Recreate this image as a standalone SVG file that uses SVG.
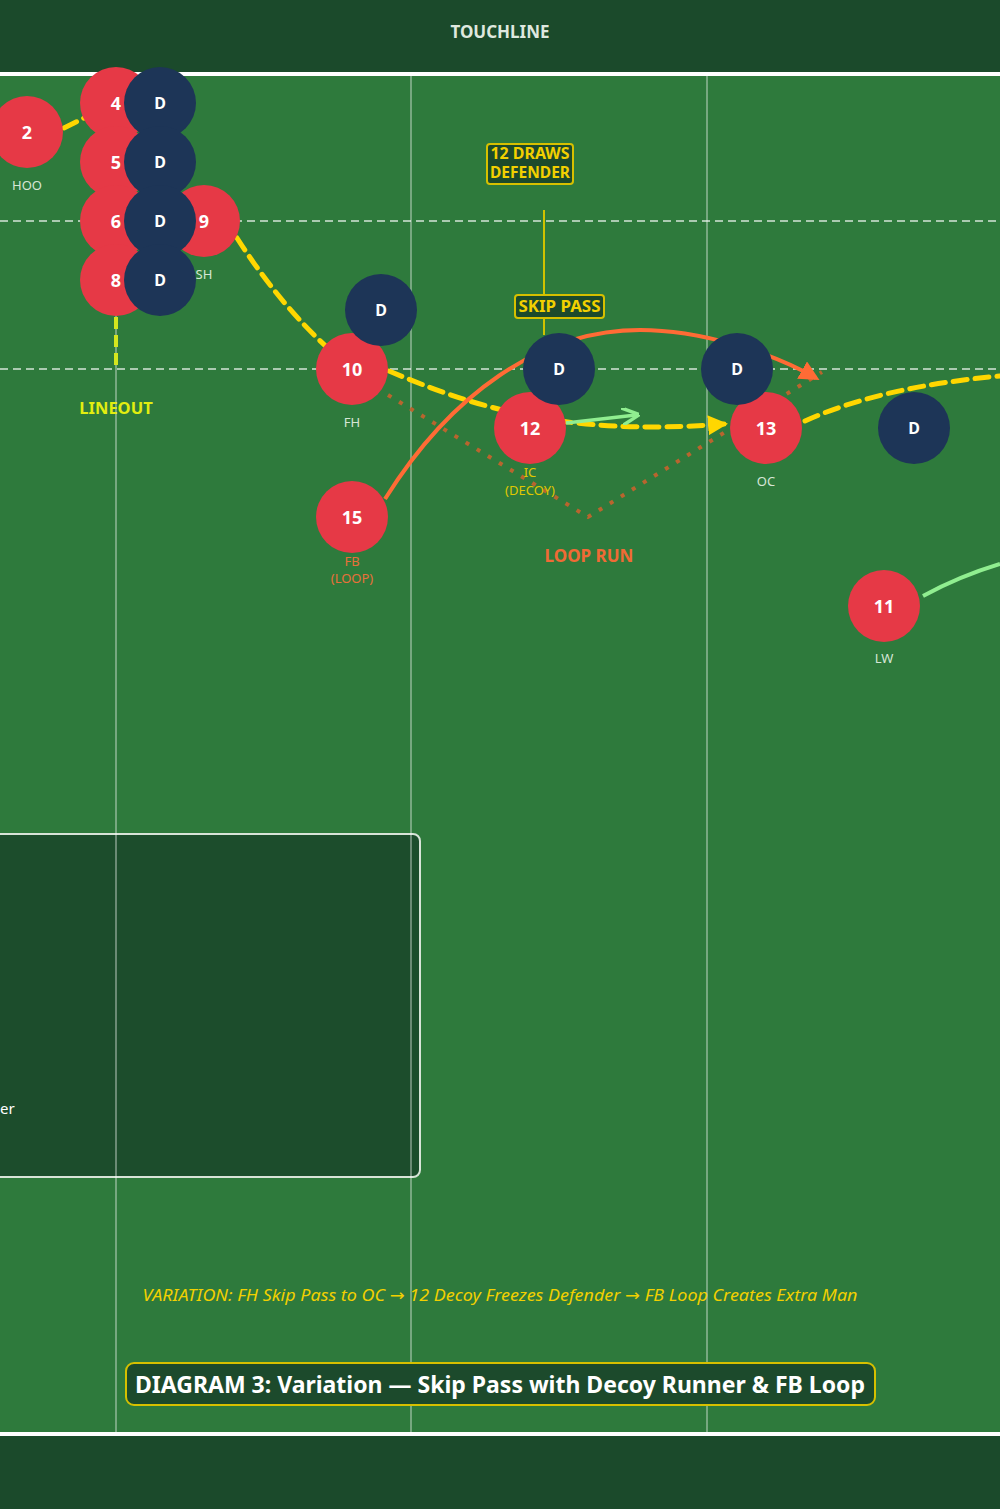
<svg xmlns="http://www.w3.org/2000/svg" width="1000" height="1509" viewBox="0 0 1000 1509">
<defs>
<style>
.lbl{font-family:"Noto Sans","Open Sans",sans-serif;font-size:13px;fill:#d6e6d6;text-anchor:middle}
.num{font-family:"Noto Sans","Open Sans",sans-serif;font-size:18px;font-weight:bold;fill:#ffffff;text-anchor:middle;dominant-baseline:central}
.dn{font-family:"Noto Sans","Open Sans",sans-serif;font-size:16px;font-weight:bold;fill:#ffffff;text-anchor:middle;dominant-baseline:central}
.att{fill:#e63946}
.def{fill:#1d3557}
.pass{fill:none;stroke:#ffd700;stroke-width:5;stroke-dasharray:14 8;stroke-linecap:round}
.vline{stroke:#ffffff;stroke-opacity:0.35;stroke-width:2}
.hline{stroke:#ffffff;stroke-opacity:0.6;stroke-width:2;stroke-dasharray:8 5}
.call{font-family:"Noto Sans","Open Sans",sans-serif;font-size:16px;font-weight:bold;fill:#f2d000;text-anchor:middle}
.callbox{fill:#1c4a2c;stroke:#d6c000;stroke-width:2}
</style>
<marker id="arY" viewBox="0 0 10 10" refX="8" refY="5" markerWidth="4" markerHeight="4" orient="auto" markerUnits="strokeWidth"><path d="M0,0 L10,5 L0,10 z" fill="#ffd700"/></marker>
<marker id="arO" viewBox="0 0 10 10" refX="8" refY="5" markerWidth="5" markerHeight="5" orient="auto" markerUnits="strokeWidth"><path d="M0,0 L10,5 L0,10 z" fill="#ff6b35"/></marker>
<marker id="arG" viewBox="0 0 10 10" refX="8" refY="5" markerWidth="5" markerHeight="5" orient="auto" markerUnits="strokeWidth"><path d="M0,0 L10,5 L0,10" fill="none" stroke="#90ee90" stroke-width="2"/></marker>
</defs>
<rect x="0" y="0" width="1000" height="1509" fill="#2e7a3c"/>
<rect x="0" y="0" width="1000" height="72" fill="#1b4a2b"/>
<rect x="0" y="72" width="1000" height="4" fill="#ffffff"/>
<rect x="0" y="1436" width="1000" height="73" fill="#1b4a2b"/>
<rect x="0" y="1432" width="1000" height="4" fill="#ffffff"/>
<text x="500" y="38" font-family="Noto Sans, Open Sans, sans-serif" font-size="17" font-weight="bold" fill="#dfe8df" text-anchor="middle">TOUCHLINE</text>

<g id="legend">
<rect x="-20" y="834" width="440" height="343" rx="7" fill="#1c4d2c" stroke="#d8e4d8" stroke-width="2"/>
<text x="0" y="1114" font-family="Noto Sans, Open Sans, sans-serif" font-size="15" fill="#ffffff">er</text>
</g>

<g id="field-lines">
<line class="vline" x1="116" y1="76" x2="116" y2="1432"/>
<line class="vline" x1="411" y1="76" x2="411" y2="1432"/>
<line class="vline" x1="707" y1="76" x2="707" y2="1432"/>
<line class="hline" x1="0" y1="221" x2="1000" y2="221"/>
<line class="hline" x1="0" y1="369" x2="1000" y2="369"/>
</g>

<g id="connectors">
<path class="pass" d="M64,128 L86,117"/>
<path class="pass" d="M237,238 Q280,305 330,350"/>
<path class="pass" d="M389,371 C470,405 560,437 724,424" marker-end="url(#arY)"/>
<path class="pass" d="M805,421 Q880,387 1000,376"/>
<line x1="116" y1="317" x2="116" y2="369" stroke="#d4e61e" stroke-width="4" stroke-dasharray="12 6"/>
<line x1="544" y1="210" x2="544" y2="335" stroke="#cfc200" stroke-width="2"/>
<path d="M388,395 L588,517 L822,372" fill="none" stroke="#b8652e" stroke-width="4" stroke-dasharray="4 9"/>
<path d="M385,499 C450,395 540,330 640,330 C700,330 770,352 816,378" fill="none" stroke="#ff6b35" stroke-width="4" marker-end="url(#arO)"/>
<path d="M566,423 L636,415" fill="none" stroke="#90ee90" stroke-width="3.5" marker-end="url(#arG)"/>
<path d="M923,596 Q960,576 1000,564" fill="none" stroke="#90ee90" stroke-width="4"/>
</g>

<g id="callouts">
<g id="call-draws"><rect class="callbox" x="487" y="144" width="86" height="40" rx="3"/><text class="call" x="530" y="159" textLength="79" lengthAdjust="spacingAndGlyphs">12 DRAWS</text><text class="call" x="530" y="178" textLength="80" lengthAdjust="spacingAndGlyphs">DEFENDER</text></g>
<g id="call-skip"><rect class="callbox" x="515" y="295" width="89" height="23" rx="3"/><text class="call" x="559.5" y="312" textLength="82" lengthAdjust="spacingAndGlyphs">SKIP PASS</text></g>
<text x="116" y="414" font-family="Noto Sans, Open Sans, sans-serif" font-size="16.5" font-weight="bold" fill="#e2ee10" text-anchor="middle">LINEOUT</text>
<text x="589" y="562" font-family="Noto Sans, Open Sans, sans-serif" font-size="17" font-weight="bold" fill="#f06a35" text-anchor="middle">LOOP RUN</text>
</g>

<g id="attackers">
<g id="n2"><circle class="att" cx="27" cy="132" r="36"/><text class="num" x="27" y="132">2</text><text class="lbl" x="27" y="190">HOO</text></g>
<g id="n4"><circle class="att" cx="116" cy="103" r="36"/><text class="num" x="116" y="103">4</text></g>
<g id="n5"><circle class="att" cx="116" cy="162" r="36"/><text class="num" x="116" y="162">5</text></g>
<g id="n6"><circle class="att" cx="116" cy="221" r="36"/><text class="num" x="116" y="221">6</text></g>
<g id="n8"><circle class="att" cx="116" cy="280" r="36"/><text class="num" x="116" y="280">8</text></g>
<g id="n9"><circle class="att" cx="204" cy="221" r="36"/><text class="num" x="204" y="221">9</text><text class="lbl" x="204" y="279">SH</text></g>
<g id="n10"><circle class="att" cx="352" cy="369" r="36"/><text class="num" x="352" y="369">10</text><text class="lbl" x="352" y="427">FH</text></g>
<g id="n12"><circle class="att" cx="530" cy="428" r="36"/><text class="num" x="530" y="428">12</text><text class="lbl" x="530" y="477" style="fill:#e0c800">IC</text><text class="lbl" x="530" y="495" style="fill:#e0c800">(DECOY)</text></g>
<g id="n13"><circle class="att" cx="766" cy="428" r="36"/><text class="num" x="766" y="428">13</text><text class="lbl" x="766" y="486">OC</text></g>
<g id="n15"><circle class="att" cx="352" cy="517" r="36"/><text class="num" x="352" y="517">15</text><text class="lbl" x="352" y="566" style="fill:#e8703a">FB</text><text class="lbl" x="352" y="583" style="fill:#e8703a">(LOOP)</text></g>
<g id="n11"><circle class="att" cx="884" cy="606" r="36"/><text class="num" x="884" y="606">11</text><text class="lbl" x="884" y="663">LW</text></g>
</g>

<g id="defenders">
<g id="d1"><circle class="def" cx="160" cy="103" r="36"/><text class="dn" x="160" y="103">D</text></g>
<g id="d2"><circle class="def" cx="160" cy="162" r="36"/><text class="dn" x="160" y="162">D</text></g>
<g id="d3"><circle class="def" cx="160" cy="221" r="36"/><text class="dn" x="160" y="221">D</text></g>
<g id="d4"><circle class="def" cx="160" cy="280" r="36"/><text class="dn" x="160" y="280">D</text></g>
<g id="d5"><circle class="def" cx="381" cy="310" r="36"/><text class="dn" x="381" y="310">D</text></g>
<g id="d6"><circle class="def" cx="559" cy="369" r="36"/><text class="dn" x="559" y="369">D</text></g>
<g id="d7"><circle class="def" cx="737" cy="369" r="36"/><text class="dn" x="737" y="369">D</text></g>
<g id="d8"><circle class="def" cx="914" cy="428" r="36"/><text class="dn" x="914" y="428">D</text></g>
</g>

<text x="500" y="1301" font-family="Noto Sans, Open Sans, sans-serif" font-size="16" font-style="italic" fill="#f2d000" text-anchor="middle" textLength="715" lengthAdjust="spacingAndGlyphs">VARIATION: FH Skip Pass to OC <tspan font-family="DejaVu Sans, sans-serif" font-style="normal">→</tspan> 12 Decoy Freezes Defender <tspan font-family="DejaVu Sans, sans-serif" font-style="normal">→</tspan> FB Loop Creates Extra Man</text>

<g id="title">
<rect x="126" y="1363" width="749" height="42" rx="8" fill="#1c4a2c" stroke="#d6c000" stroke-width="2"/>
<text x="500" y="1393" font-family="Noto Sans, Open Sans, sans-serif" font-size="24" font-weight="bold" fill="#ffffff" text-anchor="middle" textLength="730" lengthAdjust="spacingAndGlyphs">DIAGRAM 3: Variation — Skip Pass with Decoy Runner &amp; FB Loop</text>
</g>
</svg>
